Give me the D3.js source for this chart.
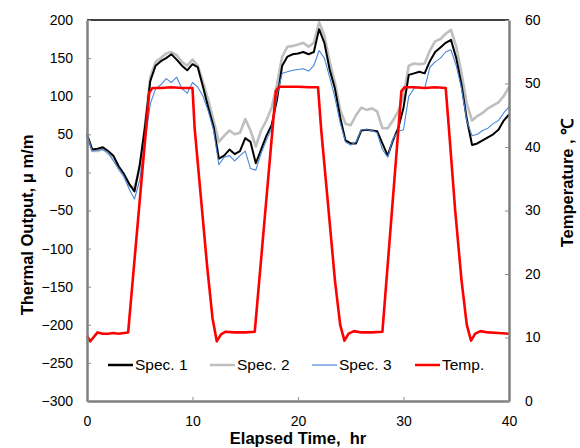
<!DOCTYPE html>
<html>
<head>
<meta charset="utf-8">
<script src="https://cdn.jsdelivr.net/npm/d3@7"></script>
<style>
  body { margin: 0; background: #fff; }
  svg { font-family: 'Liberation Sans', Arial, sans-serif; }
  .axis text { font-size: 14px; fill: #000; }
  .axis-title { font-weight: bold; font-size: 16.5px; fill: #000; white-space: pre; }
  .legend text { font-size: 15.5px; fill: #000; }
</style>
</head>
<body>
<svg id="chart"></svg>
<script>
// time (hr) of the strain samples
const hours = [0, 0.5, 1, 1.5, 2, 2.5, 3, 3.5, 4, 4.5, 5, 5.5, 6, 6.5, 7, 7.5, 8, 8.5, 9, 9.5,
  10, 10.5, 11, 11.5, 12, 12.5, 13, 13.5, 14, 14.5, 15, 15.5, 16, 16.5, 17, 17.5, 18, 18.5, 19, 19.5,
  20, 20.5, 21, 21.5, 22, 22.5, 23, 23.5, 24, 24.5, 25, 25.5, 26, 26.5, 27, 27.5, 28, 28.5, 29, 29.5,
  30, 30.5, 31, 31.5, 32, 32.5, 33, 33.5, 34, 34.5, 35, 35.5, 36, 36.5, 37, 37.5, 38, 38.5, 39, 39.5, 40];

const spec1 = [50, 30, 31, 33, 28, 22, 8, -2, -15, -25, 10, 60, 120, 140, 146, 150, 155, 148, 140, 134,
  142, 138, 112, 85, 60, 18, 22, 30, 24, 28, 45, 40, 12, 30, 48, 62, 95, 140, 152, 155,
  156, 158, 155, 158, 188, 170, 135, 110, 72, 42, 38, 38, 55, 56, 55, 54, 38, 22, 42, 58,
  85, 128, 130, 132, 130, 146, 158, 164, 170, 174, 150, 115, 70, 36, 38, 42, 46, 50, 56, 68, 76];

const spec2 = [48, 28, 28, 31, 25, 20, 5, -5, -18, -20, 5, 62, 125, 145, 150, 156, 158, 154, 145, 140,
  148, 140, 118, 95, 68, 40, 48, 55, 50, 52, 70, 55, 34, 55, 68, 85, 115, 152, 165, 166,
  168, 170, 165, 170, 197, 180, 145, 118, 82, 64, 62, 75, 85, 82, 84, 80, 58, 58, 68, 80,
  100, 140, 143, 142, 143, 160, 172, 175, 182, 187, 165, 130, 90, 68, 74, 78, 84, 88, 92, 100, 112];

const spec3 = [50, 28, 29, 30, 26, 15, 5, -5, -22, -35, -10, 40, 90, 110, 115, 123, 118, 125, 110, 104,
  118, 112, 100, 80, 55, 10, 20, 22, 15, 22, 28, 5, 3, 25, 42, 58, 100, 130, 132, 134,
  135, 136, 133, 140, 160, 150, 125, 98, 65, 40, 36, 40, 56, 56, 55, 52, 30, 20, 44, 54,
  56, 100, 110, 112, 110, 138, 145, 150, 158, 161, 140, 110, 68, 48, 50, 55, 58, 64, 68, 78, 86];

// temperature log (own time stamps)
const tempHours = [0, 0.3, 0.6, 1, 1.5, 2, 2.5, 3, 3.5, 3.9,
  5.9, 6.2, 7, 8, 9, 10, 10.2, 10.8, 11.4, 11.9, 12.3, 12.7, 13.1, 14, 15, 15.9,
  17.9, 18.2, 19, 20, 21, 21.9, 22.2, 22.9, 23.5, 24, 24.4, 24.8, 25.3, 26, 27, 28,
  29.8, 30.1, 31, 32, 33, 34, 34.3, 34.9, 35.5, 36, 36.4, 36.8, 37.3, 38, 39, 40];
const tempC = [10.3, 9.4, 10.0, 10.8, 10.6, 10.6, 10.7, 10.6, 10.7, 10.8,
  48.6, 49.3, 49.3, 49.4, 49.3, 49.3, 43, 32, 21, 13, 9.4, 10.5, 10.9, 10.8, 10.8, 10.9,
  48.8, 49.5, 49.5, 49.5, 49.4, 49.4, 42.7, 30, 19, 12, 9.5, 10.6, 11, 10.8, 10.8, 10.9,
  48.8, 49.4, 49.4, 49.3, 49.4, 49.3, 43, 30, 19, 12, 9.5, 10.6, 11, 10.8, 10.7, 10.6];

const xTicks = [0, 10, 20, 30, 40];
const yTicks = [-300, -250, -200, -150, -100, -50, 0, 50, 100, 150, 200];
const tTicks = [0, 10, 20, 30, 40, 50, 60];

const seriesNames = ['Spec. 1', 'Spec. 2', 'Spec. 3', 'Temp.'];
const seriesColors = ['#000000', '#bfbfbf', '#4a86d8', '#ff0000'];
const seriesWidths = [2, 2.6, 1.1, 2.6];

const config = {
  containerWidth: 580,
  containerHeight: 448,
  margin: {top: 20, right: 71, bottom: 47, left: 87}
};

const svg = d3.select('#chart')
    .attr('width', config.containerWidth)
    .attr('height', config.containerHeight);

const width = config.containerWidth - config.margin.left - config.margin.right;
const height = config.containerHeight - config.margin.top - config.margin.bottom;

const chart = svg.append('g')
    .attr('transform', `translate(${config.margin.left},${config.margin.top})`);

// scales
const xScale = d3.scaleLinear().domain([0, 40]).range([0, width]);
const yScale = d3.scaleLinear().domain([-300, 200]).range([height, 0]);
const tScale = d3.scaleLinear().domain([0, 60]).range([height, 0]);

// lines
const strainLine = vals => d3.line()
    .x((d, i) => xScale(hours[i]))
    .y((d, i) => yScale(vals[i]))(vals);

const tempLine = d3.line()
    .x((d, i) => xScale(tempHours[i]))
    .y((d, i) => tScale(tempC[i]));

// draw gray first so black sits on top
[[spec2, 1], [spec1, 0], [spec3, 2]].forEach(([vals, k]) => {
  chart.append('path')
      .attr('d', strainLine(vals))
      .attr('fill', 'none')
      .attr('stroke', seriesColors[k])
      .attr('stroke-width', seriesWidths[k])
      .attr('stroke-linejoin', 'round');
});

chart.append('path')
    .attr('d', tempLine(tempC))
    .attr('fill', 'none')
    .attr('stroke', seriesColors[3])
    .attr('stroke-width', seriesWidths[3])
    .attr('stroke-linejoin', 'round');

// frame: top border
chart.append('line')
    .attr('x1', 0).attr('x2', width)
    .attr('y1', 0).attr('y2', 0)
    .attr('stroke', '#000').attr('stroke-width', 1.5);

// axes, ticks point inward
const xAxis = d3.axisBottom(xScale).tickValues(xTicks).tickSizeInner(-4).tickSizeOuter(0).tickPadding(15);
const yAxis = d3.axisLeft(yScale).tickValues(yTicks).tickSizeInner(-4).tickSizeOuter(0).tickPadding(15);
const tAxis = d3.axisRight(tScale).tickValues(tTicks).tickSizeInner(-4).tickSizeOuter(0).tickPadding(16);

const xAxisG = chart.append('g').attr('class', 'axis x-axis')
    .attr('transform', `translate(0,${height})`).call(xAxis);
const yAxisG = chart.append('g').attr('class', 'axis y-axis').call(yAxis);
const tAxisG = chart.append('g').attr('class', 'axis t-axis')
    .attr('transform', `translate(${width},0)`).call(tAxis);

[xAxisG, yAxisG, tAxisG].forEach(g => {
  g.select('.domain').attr('stroke', '#7f7f7f').attr('stroke-width', 2.5);
  g.selectAll('.tick line').attr('stroke', '#8c8c8c').attr('stroke-width', 1);
  g.selectAll('.tick text').style('font-family', "'Liberation Sans', Arial, sans-serif");
});
yAxisG.selectAll('.tick text').attr('dx', '1px');

// axis titles
svg.append('text')
    .attr('class', 'axis-title')
    .attr('text-anchor', 'middle')
    .attr('x', config.margin.left + width / 2)
    .attr('y', 444)
    .text('Elapsed Time,  hr');

svg.append('text')
    .attr('class', 'axis-title')
    .attr('text-anchor', 'middle')
    .attr('transform', 'translate(33,225) rotate(-90)')
    .text('Thermal Output, μ m/m');

svg.append('text')
    .attr('class', 'axis-title')
    .attr('text-anchor', 'middle')
    .attr('transform', 'translate(573,183) rotate(-90)')
    .text('Temperature , ℃');

// legend
const legendX = [108, 210, 312, 415];
const legend = svg.append('g').attr('class', 'legend');
seriesNames.forEach((name, i) => {
  const g = legend.append('g').attr('transform', `translate(${legendX[i]},365)`);
  g.append('line')
      .attr('x1', 0).attr('x2', 25)
      .attr('stroke', seriesColors[i])
      .attr('stroke-width', i === 2 ? 1.2 : 2.5);
  g.append('text')
      .attr('x', 27)
      .attr('dy', '0.35em')
      .text(name);
});
</script>
</body>
</html>
